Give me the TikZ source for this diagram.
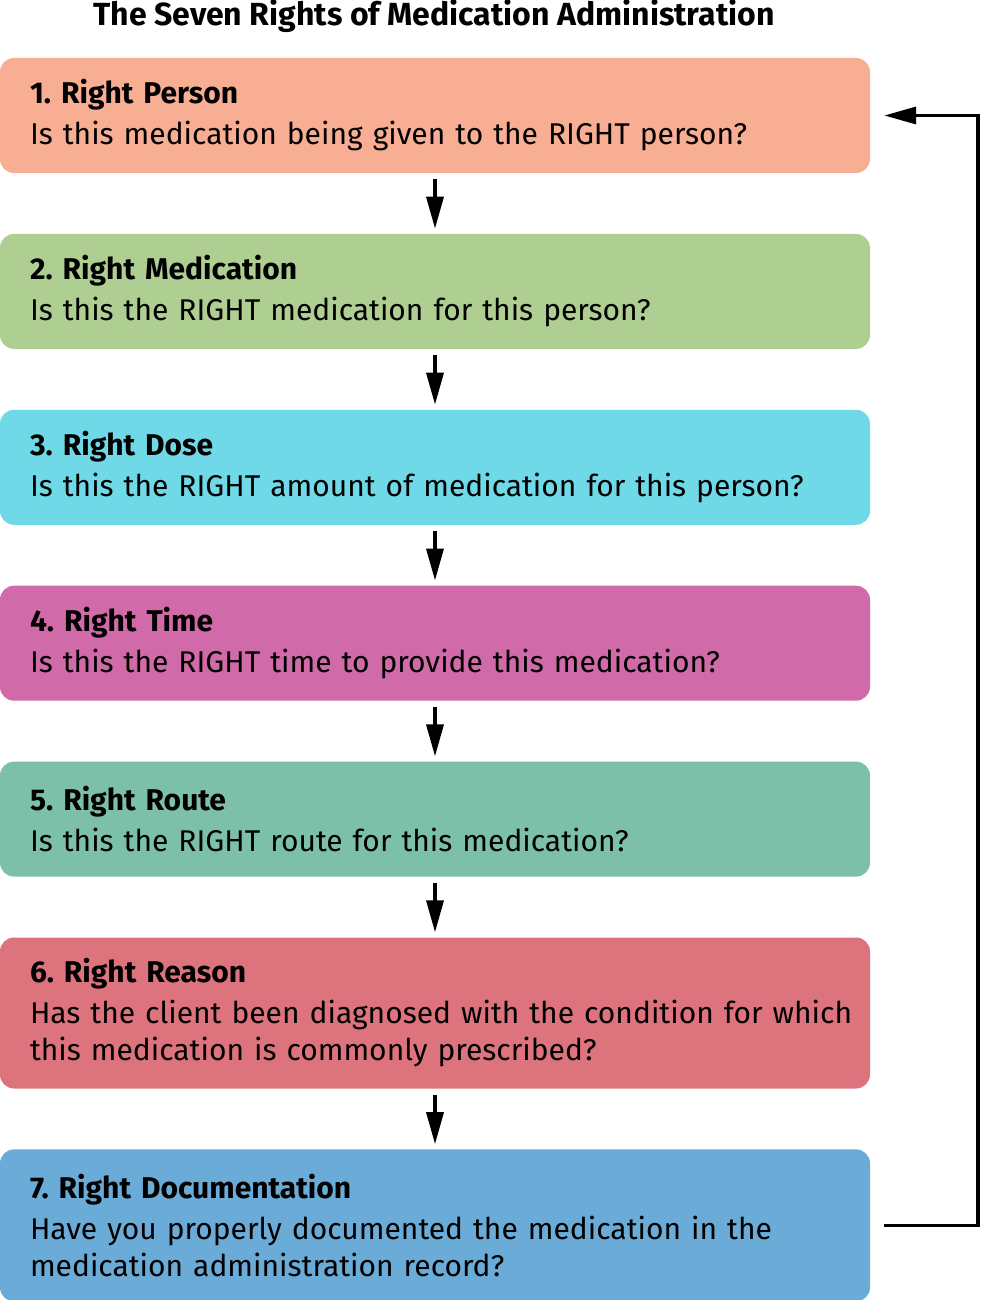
\documentclass[tikz,border=0pt]{standalone}
\usepackage{fontspec}
\setmainfont{Fira Sans}
\usetikzlibrary{arrows.meta,positioning}
\definecolor{personcol}{HTML}{F8AE93}
\definecolor{medicationcol}{HTML}{AECF91}
\definecolor{dosecol}{HTML}{70D9E8}
\definecolor{timecol}{HTML}{D06AA8}
\definecolor{routecol}{HTML}{7CC0A9}
\definecolor{reasoncol}{HTML}{DD737D}
\definecolor{documentationcol}{HTML}{6AABD8}
\frenchspacing
\begin{document}
\begin{tikzpicture}[x=1pt, y=1pt, node distance=60.5pt,
	rightbox/.style={rectangle, rounded corners=14pt, text width=810pt, align=left, inner xsep=30pt, minimum height=115pt, font=\fontsize{30}{37}\selectfont},
	flow/.style={-{Triangle[length=32pt, width=17pt]}, line width=3.5pt, shorten <=6pt, shorten >=5pt}]
	\useasboundingbox (0,0) rectangle (981,-1300);
	\node[font=\bfseries\fontsize{32}{36}\selectfont] (title) at (434,-16) {The Seven Rights of Medication Administration};
	\node[rightbox, fill=personcol] (person) at (435,-115.5) {\textbf{1. Right Person}\\[4pt] Is this medication being given to the RIGHT person?};
	\node[rightbox, fill=medicationcol, below=of person] (medication) {\textbf{2. Right Medication}\\[4pt] Is this the RIGHT medication for this person?};
	\node[rightbox, fill=dosecol, below=of medication] (dose) {\textbf{3. Right Dose}\\[4pt] Is this the RIGHT amount of medication for this person?};
	\node[rightbox, fill=timecol, below=of dose] (time) {\textbf{4. Right Time}\\[4pt] Is this the RIGHT time to provide this medication?};
	\node[rightbox, fill=routecol, below=of time] (route) {\textbf{5. Right Route}\\[4pt] Is this the RIGHT route for this medication?};
	\node[rightbox, fill=reasoncol, minimum height=151pt, below=of route] (reason) {\textbf{6. Right Reason}\\[4pt] \mbox{Has the client been diagnosed with the condition for which}\\ this medication is commonly prescribed?};
	\node[rightbox, fill=documentationcol, minimum height=152pt, below=of reason] (documentation) {\textbf{7. Right Documentation}\\[4pt] Have you properly documented the medication in the\\ medication administration record?};
	% downward arrows
	\draw[flow] (person) -- (medication);
	\draw[flow] (medication) -- (dose);
	\draw[flow] (dose) -- (time);
	\draw[flow] (time) -- (route);
	\draw[flow] (route) -- (reason);
	\draw[flow] (reason) -- (documentation);
	% back to the start
	\draw[flow, shorten <=14pt, shorten >=14pt] (documentation.east) -- ++(108,0) |- (person.east);
\end{tikzpicture}
\end{document}
